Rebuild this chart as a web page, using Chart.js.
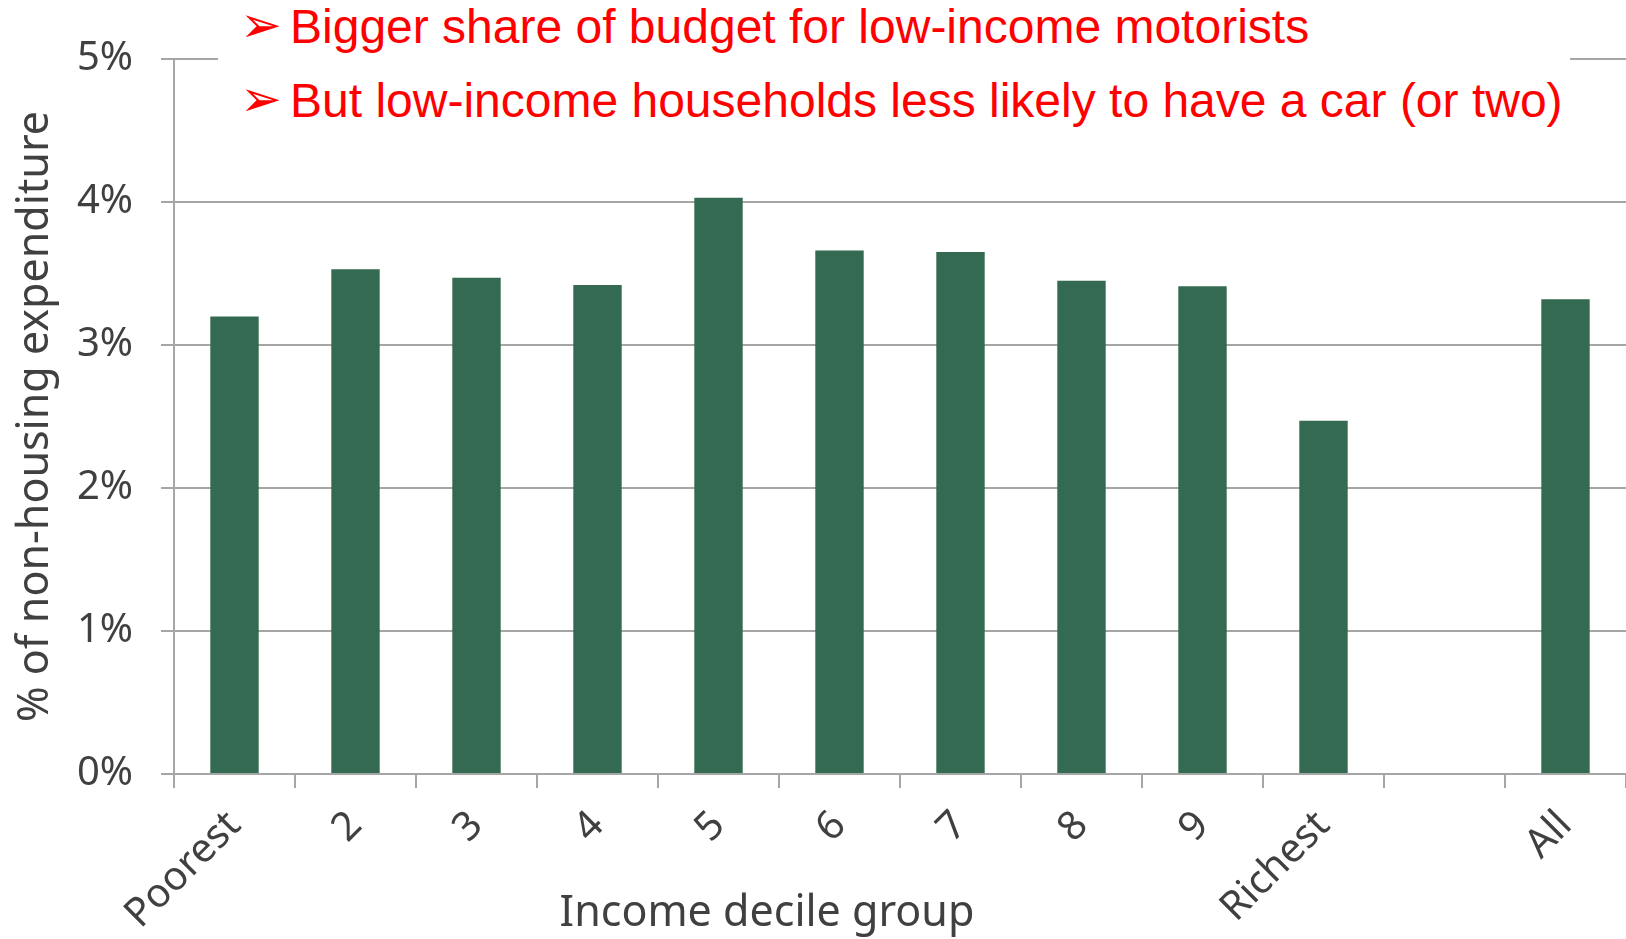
<!DOCTYPE html>
<html>
<head>
<meta charset="utf-8">
<script src="https://cdn.jsdelivr.net/npm/chart.js@4/dist/chart.umd.min.js"></script>
<style>
    html, body { margin: 0; padding: 0; background: #fff; overflow: hidden; }
    #wrap { position: relative; width: 1626px; height: 939px; }
    #note {
        position: absolute; left: 218px; top: 0; width: 1352px; height: 128px;
        background: #fff; color: #ff0000;
        font-family: "Liberation Sans", Arial, sans-serif; font-size: 48px; line-height: 48px;
    }
    #note div { position: absolute; left: 22px; white-space: nowrap; }
    #note .arrow {
        font-family: "DejaVu Sans", sans-serif; font-size: 50px; display: inline-block; width: 50px;
        vertical-align: top; position: relative; top: -2px;
    }
    #xTitle {
        position: absolute; left: 767px; top: 886px; transform: translateX(-50%);
        font-family: "Noto Sans", "Open Sans", sans-serif; font-size: 43px; line-height: 48px;
        color: #404040; white-space: nowrap;
    }
</style>
</head>
<body>
<div id="wrap">
    <canvas id="chart" width="1626" height="939"></canvas>
    <div id="note">
        <div style="top:3px"><span class="arrow">➢</span>Bigger share of budget for low-income motorists</div>
        <div style="top:77px"><span class="arrow">➢</span>But low-income households less likely to have a car (or two)</div>
    </div>
    <div id="xTitle">Income decile group</div>
</div>
<script>
// ── data ──
const categories = ['Poorest', '2', '3', '4', '5', '6', '7', '8', '9', 'Richest', '', 'All'];
const fuelShare = [3.20, 3.53, 3.47, 3.42, 4.03, 3.66, 3.65, 3.45, 3.41, 2.47, null, 3.32];
const yTickValues = [0, 1, 2, 3, 4, 5];
const yAxisLabel = '% of non-housing expenditure';

const gridGrey = '#a6a6a6';
const textGrey = '#404040';
const fontFamily = '"Noto Sans", "Open Sans", sans-serif';

new Chart(document.getElementById('chart').getContext('2d'), {
    type: 'bar',
    data: {
        labels: categories,
        datasets: [{
            data: fuelShare,
            backgroundColor: '#346a51',
            borderWidth: 0,
            barPercentage: 0.4,
            categoryPercentage: 1
        }]
    },
    options: {
        responsive: false,
        animation: false,
        devicePixelRatio: 1,
        layout: { padding: { top: 59, right: 0, left: 0, bottom: 0 } },
        plugins: { legend: { display: false }, tooltip: { enabled: false } },
        scales: {
            x: {
                grid: { drawOnChartArea: false, drawTicks: true, tickLength: 14, color: gridGrey, lineWidth: 2, offset: true },
                border: { color: gridGrey, width: 2 },
                ticks: {
                    color: textGrey, font: { family: fontFamily, size: 40 },
                    minRotation: 45, maxRotation: 45, autoSkip: false, padding: 14
                },
                afterFit: s => { s.height = 165; }
            },
            y: {
                min: 0, max: 5,
                afterBuildTicks: s => { s.ticks = yTickValues.map(v => ({ value: v })); },
                grid: { color: gridGrey, lineWidth: 2, tickLength: 13 },
                border: { color: gridGrey, width: 2 },
                ticks: {
                    color: textGrey, font: { family: fontFamily, size: 40 }, padding: 28,
                    callback: v => `${v}%`
                },
                title: {
                    display: true, text: yAxisLabel, color: textGrey,
                    font: { family: fontFamily, size: 43 }, padding: { top: 10, bottom: 0 }
                },
                afterFit: s => { s.width = 174; }
            }
        }
    }
});
</script>
</body>
</html>
